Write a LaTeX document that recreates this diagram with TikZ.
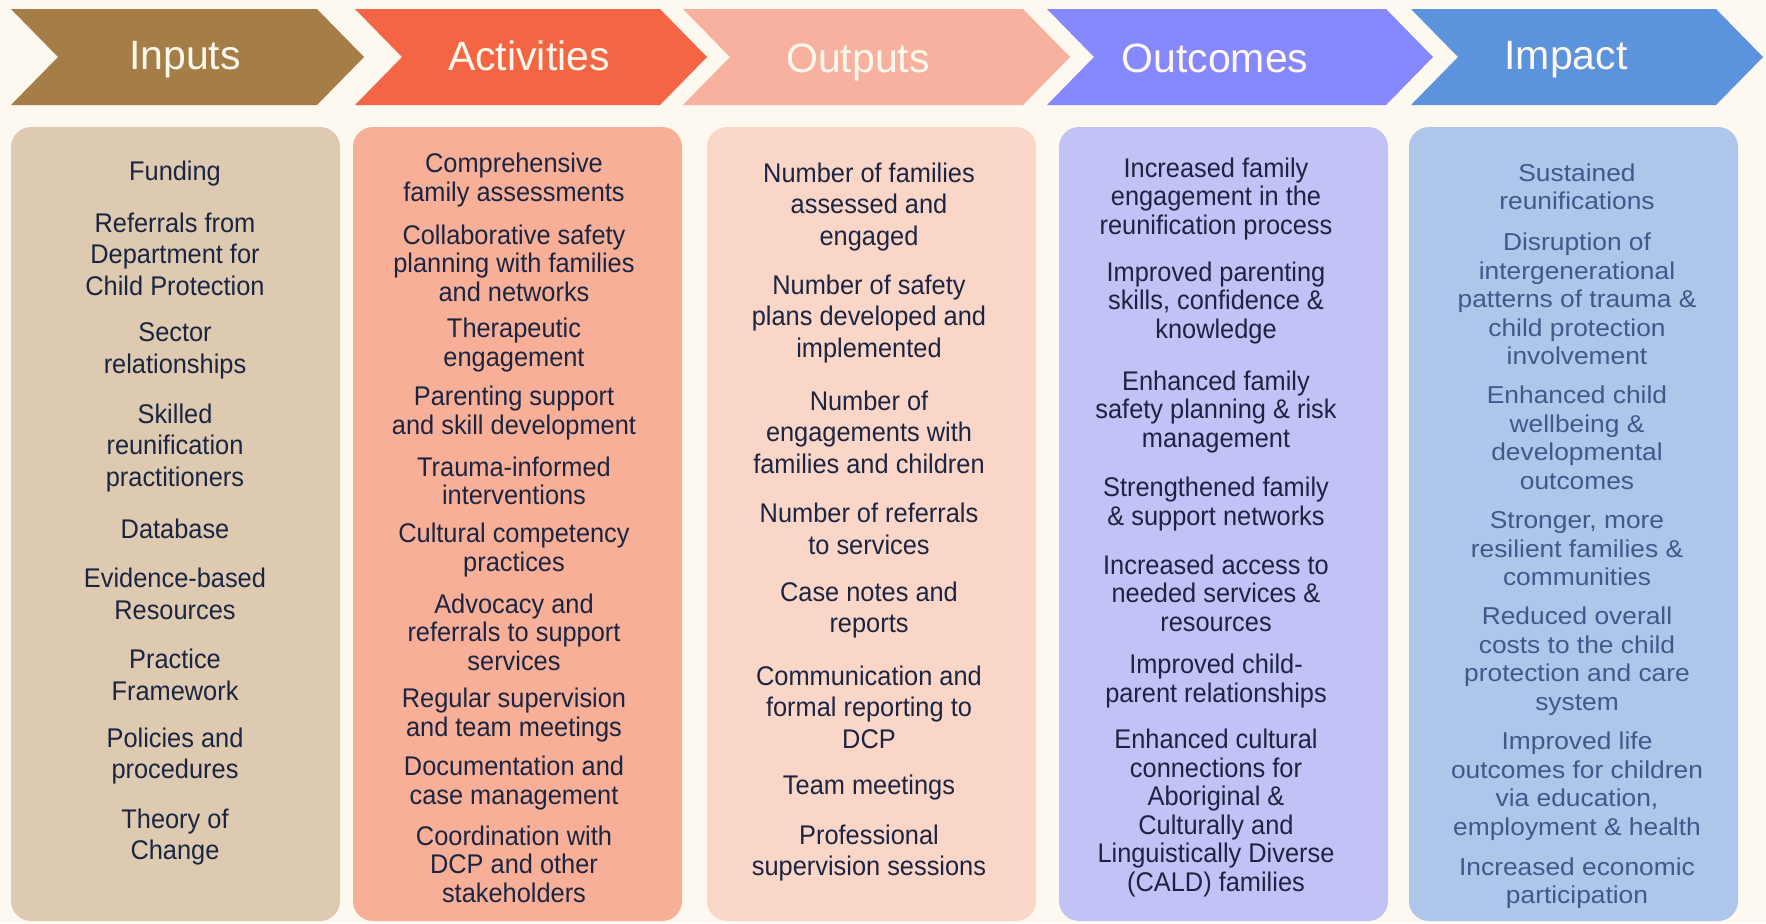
\documentclass[tikz,border=0pt]{standalone}
\usepackage{fontspec}
\setmainfont{Liberation Sans}
\newfontfamily\itemfont{Liberation Sans}[FakeStretch=0.94]
\newfontfamily\impactfont{Liberation Sans}[FakeStretch=1.08]
\definecolor{paper}{HTML}{FDF8F0}
\definecolor{ink}{HTML}{1B2541}
\definecolor{impactink}{HTML}{41598A}
\definecolor{headtext}{HTML}{FFF8EE}
\definecolor{inputsdark}{HTML}{A57D46}
\definecolor{inputspale}{HTML}{DDCAB0}
\definecolor{activitiesdark}{HTML}{F46643}
\definecolor{activitiespale}{HTML}{F8AF98}
\definecolor{outputsdark}{HTML}{F8B19E}
\definecolor{outputspale}{HTML}{FAD6C9}
\definecolor{outcomesdark}{HTML}{8689FE}
\definecolor{outcomespale}{HTML}{C2C2F6}
\definecolor{impactdark}{HTML}{5C93DD}
\definecolor{impactpale}{HTML}{ADC6E9}
\tikzset{
  head/.style={anchor=base, inner sep=0pt, text=headtext, font=\fontsize{20.5}{24}\selectfont},
  item/.style={align=center, inner sep=0pt, text=ink, font=\itemfont\fontsize{13.5}{15.75}\selectfont},
  tight/.style={font=\itemfont\fontsize{13.5}{14.25}\selectfont},
  faint/.style={text=impactink, font=\impactfont\fontsize{12.2}{14.25}\selectfont}
}

\begin{document}
\begin{tikzpicture}[x=0.5pt,y=-0.5pt]
  \fill[paper] (0,0) rectangle (1766,923);
  \foreach \l/\c/\bx/\dark/\pale in {11/317/11/inputsdark/inputspale,
      355/660/353/activitiesdark/activitiespale, 683/1023/707/outputsdark/outputspale,
      1047/1386/1059/outcomesdark/outcomespale, 1411/1716/1409/impactdark/impactpale}
  {
    \fill[fill=\dark] (\l,9) -- (\c,9) -- ++(47,48) -- (\c,105) -- (\l,105) -- ++(47,-48) -- cycle;
    \fill[fill=\pale, rounded corners=10pt] (\bx,127) rectangle ++(329,794);
  }
  \node[head] (h-in) at (185,69) {Inputs};
  \node[head] (h-act) at (529,70) {Activities};
  \node[head] (h-out) at (858,72) {Outputs};
  \node[head] (h-oc) at (1215,72) {Outcomes};
  \node[head] (h-imp) at (1566,69) {Impact};
  \foreach \y/\t [count=\i] in {174/{Funding}, 254/{Referrals from\\Department for\\Child Protection},
      351/{Sector\\relationships}, 448/{Skilled\\reunification\\practitioners}, 529/{Database},
      594/{Evidence-based\\Resources}, 675/{Practice\\Framework}, 756/{Policies and\\procedures},
      837/{Theory of\\Change}}
    \node[item] (in-\i) at (175,\y) {\t};
  \foreach \y/\t [count=\i] in {180/{Comprehensive\\family assessments},
      263/{Collaborative safety\\planning with families\\and networks}, 345/{Therapeutic\\engagement},
      413/{Parenting support\\and skill development}, 481/{Trauma-informed\\interventions},
      550/{Cultural competency\\practices}, 632/{Advocacy and\\referrals to support\\services},
      715/{Regular supervision\\and team meetings}, 783/{Documentation and\\case management},
      864/{Coordination with\\DCP and other\\stakeholders}}
    \node[item, tight] (act-\i) at (514,\y) {\t};
  \foreach \y/\t [count=\i] in {207/{Number of families\\assessed and\\engaged},
      319/{Number of safety\\plans developed and\\implemented},
      432/{Number of\\engagements with\\families and children}, 529/{Number of referrals\\to services},
      610/{Case notes and\\reports}, 707/{Communication and\\formal reporting to\\DCP},
      788/{Team meetings}, 853/{Professional\\supervision sessions}}
    \node[item] (out-\i) at (869,\y) {\t};
  \foreach \y/\t [count=\i] in {199/{Increased family\\engagement in the\\reunification process},
      303/{Improved parenting\\skills, confidence \&\\knowledge},
      412/{Enhanced family\\safety planning \& risk\\management},
      504/{Strengthened family\\\& support networks},
      593/{Increased access to\\needed services \&\\resources},
      681/{Improved child-\\parent relationships},
      813/{Enhanced cultural\\connections for\\Aboriginal \&\\Culturally and\\Linguistically Diverse\\(CALD) families}}
    \node[item, tight] (oc-\i) at (1216,\y) {\t};
  \foreach \y/\t [count=\i] in {187/{Sustained\\reunifications},
      299/{Disruption of\\intergenerational\\patterns of trauma \&\\child protection\\involvement},
      438/{Enhanced child\\wellbeing \&\\developmental\\outcomes},
      549/{Stronger, more\\resilient families \&\\communities},
      661/{Reduced overall\\costs to the child\\protection and care\\system},
      786/{Improved life\\outcomes for children\\via education,\\employment \& health},
      883/{Increased economic\\participation}}
    \node[item, faint] (imp-\i) at (1577,\y) {\t};
\end{tikzpicture}
\end{document}
